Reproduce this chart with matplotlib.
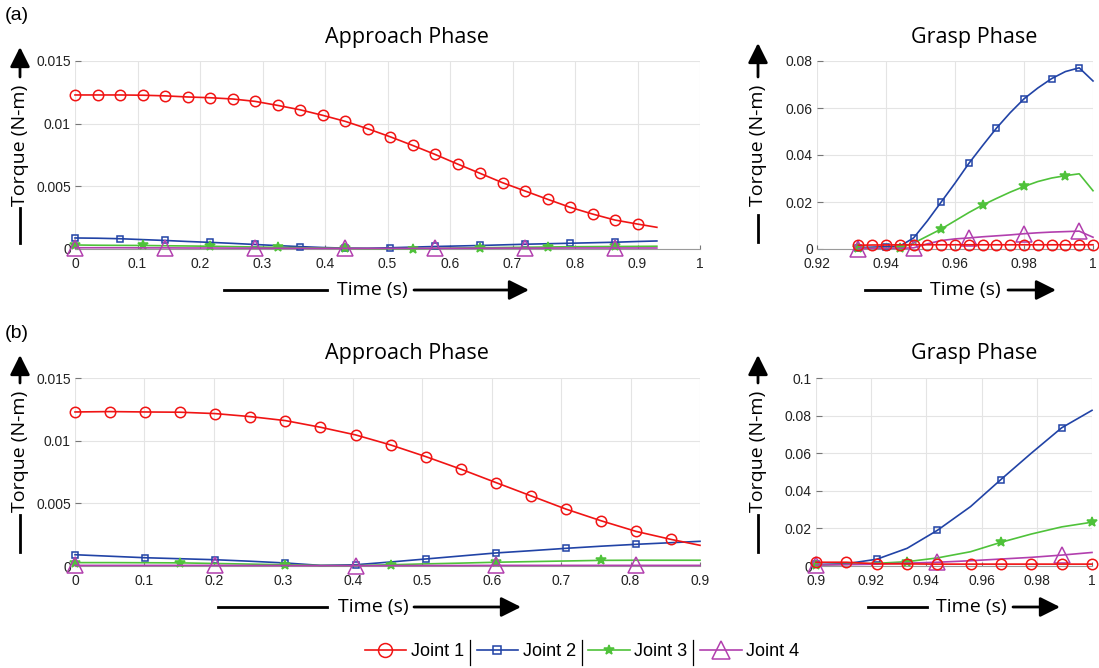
import matplotlib
matplotlib.use("Agg")
import matplotlib.pyplot as plt
import numpy as np
from matplotlib.lines import Line2D
from matplotlib.patches import FancyArrowPatch
from matplotlib.ticker import FuncFormatter

W, H = 1099, 668

# ---------------- data ----------------
# (a) approach phase
t_a_app = [0.0, 0.036, 0.072, 0.108, 0.144, 0.18, 0.216, 0.252, 0.288, 0.324,
           0.36, 0.396, 0.432, 0.468, 0.504, 0.54, 0.576, 0.612, 0.648, 0.684,
           0.72, 0.756, 0.792, 0.828, 0.864, 0.9, 0.931]
j1_a_app = [0.01229, 0.01229, 0.01229, 0.01227, 0.01222, 0.01213, 0.01207, 0.01197,
            0.01178, 0.01146, 0.01111, 0.01067, 0.01019, 0.0096, 0.00896, 0.00827,
            0.00755, 0.00678, 0.00604, 0.00529, 0.00463, 0.00397, 0.00333, 0.00279,
            0.00231, 0.00199, 0.00173]
j2_a_app = [0.00088, 0.00086, 0.00082, 0.00075, 0.00068, 0.0006, 0.00053, 0.00045,
            0.00036, 0.00027, 0.00019, 0.00012, 0.00007, 0.00006, 0.0001, 0.00015,
            0.0002, 0.00024, 0.00028, 0.00033, 0.00038, 0.00042, 0.00046, 0.0005,
            0.00054, 0.0006, 0.00064]
j3_a_app = [0.00032, 0.0003, 0.00029, 0.00028, 0.00026, 0.00024, 0.00022, 0.00019,
            0.00016, 0.00013, 0.0001, 0.00007, 0.00005, 0.00003, 0.00002, 0.00003,
            0.00005, 0.00008, 0.0001, 0.00012, 0.00014, 0.00016, 0.00018, 0.00019,
            0.0002, 0.00021, 0.00022]
j4_a_app = [0.0001, 0.0001, 0.0001, 0.00009, 0.00009, 0.00008, 0.00008, 0.00007,
            0.00007, 0.00006, 0.00006, 0.00005, 0.00005, 0.00005, 0.00005, 0.00005,
            0.00006, 0.00006, 0.00006, 0.00007, 0.00007, 0.00007, 0.00008, 0.00008,
            0.00008, 0.00008, 0.00008]

# (a) grasp phase
t_a_gr = [0.932, 0.936, 0.94, 0.944, 0.948, 0.952, 0.956, 0.96, 0.964, 0.968,
          0.972, 0.976, 0.98, 0.984, 0.988, 0.992, 0.996, 1.0]
j1_a_gr = [0.0016, 0.0017, 0.0017, 0.0018, 0.0018, 0.0018, 0.0018, 0.0018, 0.0018,
           0.0018, 0.0018, 0.0018, 0.0018, 0.0018, 0.0018, 0.0018, 0.0018, 0.0018]
j2_a_gr = [0.0006, 0.0008, 0.001, 0.0012, 0.0047, 0.012, 0.020, 0.028, 0.0364,
           0.044, 0.0514, 0.058, 0.0639, 0.0685, 0.0725, 0.0755, 0.0771, 0.0715]
j3_a_gr = [0.0003, 0.0003, 0.0003, 0.0004, 0.0025, 0.0055, 0.0085, 0.012, 0.0155,
           0.0187, 0.0215, 0.0242, 0.0266, 0.0287, 0.0302, 0.0312, 0.032, 0.0248]
j4_a_gr = [0.0002, 0.0003, 0.0003, 0.0003, 0.0005, 0.0022, 0.0036, 0.0043, 0.0047,
           0.0052, 0.0056, 0.006, 0.0065, 0.0069, 0.0072, 0.0074, 0.0076, 0.005]

# (b) approach phase
t_b_app = [0.0, 0.0505, 0.101, 0.1515, 0.202, 0.2525, 0.303, 0.3535, 0.404, 0.4545,
           0.505, 0.5555, 0.606, 0.6565, 0.707, 0.7575, 0.808, 0.8585, 0.9]
j1_b_app = [0.01229, 0.01232, 0.01229, 0.01227, 0.01216, 0.01192, 0.0116, 0.01107,
            0.01046, 0.00966, 0.00873, 0.00773, 0.00666, 0.0056, 0.00454, 0.00361,
            0.00276, 0.00212, 0.00165]
j2_b_app = [0.0009, 0.00078, 0.00066, 0.00058, 0.0005, 0.00038, 0.00024, 0.00005,
            0.0001, 0.00032, 0.00056, 0.0008, 0.00104, 0.00122, 0.00141, 0.00158,
            0.00173, 0.00186, 0.00197]
j3_b_app = [0.00027, 0.00027, 0.00026, 0.00025, 0.0002, 0.00015, 0.0001, 0.00004,
            0.00003, 0.0001, 0.00017, 0.00023, 0.0003, 0.00035, 0.0004, 0.00045,
            0.00046, 0.00046, 0.00046]
j4_b_app = [0.00005, 0.00005, 0.00005, 0.00005, 0.00005, 0.00004, 0.00004, 0.00003,
            0.00003, 0.00003, 0.00004, 0.00004, 0.00005, 0.00005, 0.00005, 0.00005,
            0.00005, 0.00005, 0.00005]

# (b) grasp phase
t_b_gr = [0.9, 0.911, 0.922, 0.933, 0.944, 0.956, 0.967, 0.978, 0.989, 1.0]
j1_b_gr = [0.002, 0.002, 0.0012, 0.0011, 0.001, 0.001, 0.001, 0.001, 0.001, 0.001]
j2_b_gr = [0.0008, 0.0012, 0.0036, 0.0094, 0.019, 0.0316, 0.046, 0.060, 0.0735, 0.0828]
j3_b_gr = [0.0005, 0.0009, 0.0014, 0.0023, 0.0043, 0.0076, 0.0126, 0.017, 0.0208, 0.0233]
j4_b_gr = [0.0005, 0.0007, 0.001, 0.0015, 0.002, 0.0028, 0.0037, 0.0046, 0.0058, 0.0072]

joint_names = ["Joint 1", "Joint 2", "Joint 3", "Joint 4"]

# ---------------- styles ----------------
colors = ["#f01414", "#2143a6", "#4fc23a", "#b23fae"]
markers = ["o", "s", "*", "^"]

fig = plt.figure(figsize=(W / 100, H / 100), dpi=100)


def fx(x):
    return x / W


def fy(y):
    return 1 - y / H


def make_axes(x0, x1, y0, y1):
    return fig.add_axes([fx(x0), fy(y1), fx(x1) - fx(x0), fy(y0) - fy(y1)])


panels = [
    # axes px box, xlim, ylim, xticks, yticks, t, series, number of marked points
    (make_axes(75, 700, 61, 249), (0, 1), (0, 0.015), np.arange(0, 1.01, 0.1),
     [0, 0.005, 0.01, 0.015], t_a_app, [j1_a_app, j2_a_app, j3_a_app, j4_a_app], 26),
    (make_axes(817, 1093, 61, 249), (0.92, 1), (0, 0.08), [0.92, 0.94, 0.96, 0.98, 1.0],
     [0, 0.02, 0.04, 0.06, 0.08], t_a_gr, [j1_a_gr, j2_a_gr, j3_a_gr, j4_a_gr], 18),
    (make_axes(75, 700, 378, 566), (0, 0.9), (0, 0.015), np.arange(0, 0.91, 0.1),
     [0, 0.005, 0.01, 0.015], t_b_app, [j1_b_app, j2_b_app, j3_b_app, j4_b_app], 18),
    (make_axes(816, 1092, 378, 566), (0.9, 1), (0, 0.1), [0.9, 0.92, 0.94, 0.96, 0.98, 1.0],
     [0, 0.02, 0.04, 0.06, 0.08, 0.1], t_b_gr, [j1_b_gr, j2_b_gr, j3_b_gr, j4_b_gr], 10),
]

msizes = [7.5, 5, 7, 11]
fmt = FuncFormatter(lambda v, p: f"{round(v, 4):g}")

for ax, xl, yl, xt, yt, t, series, nmk in panels:
    for i, (vals, c, m, ms) in enumerate(zip(series, colors, markers, msizes)):
        ax.plot(t, vals, color=c, lw=1.2, marker=m, ms=ms, mfc="none" if m != "*" else c,
                mec=c, mew=1.1, markevery=list(range(0, nmk, i + 1)),
                clip_on=False, zorder=3.4 if i == 0 else 3)
    ax.set_xlim(*xl)
    ax.set_ylim(*yl)
    ax.set_xticks(xt)
    ax.set_yticks(yt)
    ax.xaxis.set_major_formatter(fmt)
    ax.yaxis.set_major_formatter(fmt)
    ax.grid(True, color="#e4e4e4", lw=0.8)
    ax.set_axisbelow(True)
    for s in ["top", "right", "left"]:
        ax.spines[s].set_visible(False)
    ax.spines["bottom"].set_color("#9a9a9a")
    ax.tick_params(axis="y", direction="in", length=4, color="#777777", pad=3,
                   labelsize=10, labelcolor="#222222")
    ax.tick_params(axis="x", direction="in", length=3, color="#777777", pad=6,
                   labelsize=10, labelcolor="#222222")
    for lab in ax.get_xticklabels() + ax.get_yticklabels():
        lab.set_family("Liberation Sans")

# ---------------- titles, panel letters ----------------
title_font = dict(family="Open Sans", fontsize=15.5, ha="center", va="center")
fig.text(fx(407), fy(37), "Approach Phase", **title_font)
fig.text(fx(974), fy(37), "Grasp Phase", **title_font)
fig.text(fx(407), fy(354), "Approach Phase", **title_font)
fig.text(fx(974), fy(354), "Grasp Phase", **title_font)
fig.text(fx(17), fy(16), "(a)", family="Liberation Sans", fontsize=14, ha="center", va="center")
fig.text(fx(17), fy(333), "(b)", family="Liberation Sans", fontsize=14, ha="center", va="center")

# ---------------- arrow axis labels ----------------
arrow_style = "-|>,head_length=0.8,head_width=0.4"


def arrow(p0, p1):
    fig.add_artist(FancyArrowPatch((fx(p0[0]), fy(p0[1])), (fx(p1[0]), fy(p1[1])),
                                   transform=fig.transFigure, arrowstyle=arrow_style,
                                   mutation_scale=15, lw=2, color="k",
                                   shrinkA=0, shrinkB=0))


def seg(xs, ys):
    fig.add_artist(Line2D([fx(v) for v in xs], [fy(v) for v in ys],
                          transform=fig.transFigure, color="k", lw=2))


def ylabel(x, dash, yc, arr):
    seg([x, x], dash)
    fig.text(fx(x), fy(yc), "Torque (N-m)", family="Open Sans", fontsize=14,
             rotation=90, ha="center", va="center")
    arrow((x, arr[0]), (x, arr[1]))


def xlabel(y, line, xc, arr):
    seg(line, [y, y])
    fig.text(fx(xc), fy(y), "Time (s)", family="Open Sans", fontsize=14,
             ha="center", va="center")
    arrow((arr[0], y), (arr[1], y))


ylabel(20, (208, 243), 145, (77, 47))
ylabel(758, (215, 242), 145, (77, 43))
ylabel(20, (515, 552), 451, (383, 355))
ylabel(758, (515, 552), 451, (383, 355))

xlabel(290, (224, 327), 372, (414, 529))
xlabel(290, (865, 920), 965, (1008, 1056))
xlabel(607, (218, 327), 373, (414, 521))
xlabel(607, (868, 927), 971, (1013, 1060))

# ---------------- legend ----------------
handles = [Line2D([], [], color=c, marker=m, ms=ms, mfc="none" if m != "*" else c,
                  mec=c, mew=1.1, lw=1.2)
           for c, m, ms in zip(colors, markers, [10, 6, 7, 13])]
leg = fig.legend(handles, joint_names, loc="center", bbox_to_anchor=(fx(582), fy(652)),
                 ncol=4, frameon=False, handlelength=2.3, handletextpad=0.25,
                 columnspacing=0.7, prop={"family": "Liberation Sans", "size": 13})

fig.canvas.draw()
r = fig.canvas.get_renderer()
texts = leg.get_texts()
for i in range(3):
    e = texts[i].get_window_extent(r)
    xs = e.x1 + 6
    fig.add_artist(Line2D([xs / W, xs / W], [(e.y0 - 4) / H, (e.y1 + 4) / H],
                          transform=fig.transFigure, color="k", lw=0.9))

fig.savefig("out.png", dpi=100)
